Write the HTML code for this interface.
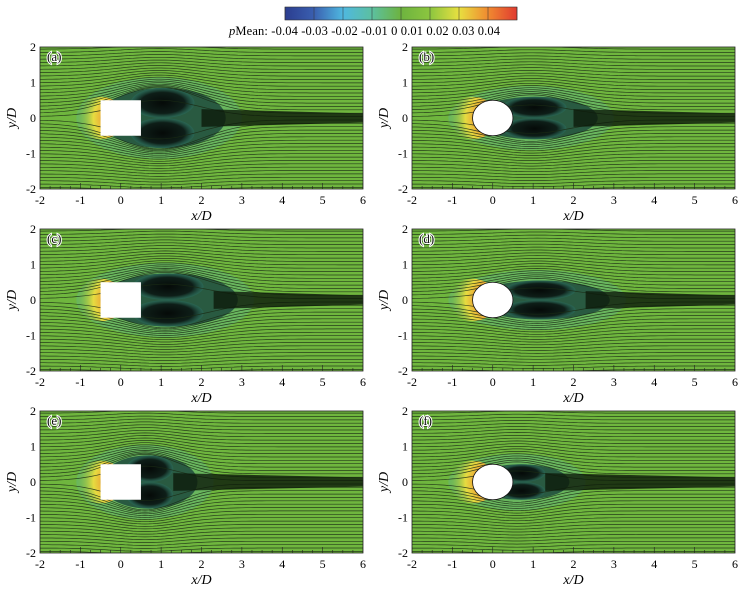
<!DOCTYPE html>
<html><head><meta charset="utf-8"><style>
body{margin:0;background:#fff;}
svg{display:block;font-family:"Liberation Serif",serif;}
</style></head><body>
<svg id="fig" width="748" height="596" viewBox="0 0 748 596">
<defs>
<linearGradient id="cb" x1="0" x2="1" y1="0" y2="0">
<stop offset="0" stop-color="#2b3d8f"/><stop offset="0.125" stop-color="#3a5fb0"/><stop offset="0.25" stop-color="#4fb8e0"/><stop offset="0.375" stop-color="#5cc0a0"/><stop offset="0.5" stop-color="#6db33f"/><stop offset="0.625" stop-color="#8cc63f"/><stop offset="0.75" stop-color="#e8e040"/><stop offset="0.875" stop-color="#f08a30"/><stop offset="1" stop-color="#e03a30"/>
</linearGradient>
<radialGradient id="stag" cx="1" cy="0.5" r="1">
<stop offset="0" stop-color="#e8402e"/><stop offset="0.35" stop-color="#f08a30"/><stop offset="0.65" stop-color="#e6dc40"/><stop offset="1" stop-color="#72b840" stop-opacity="0"/>
</radialGradient>
<radialGradient id="wake" cx="0.5" cy="0.5" r="0.5">
<stop offset="0" stop-color="#050a08"/><stop offset="0.7" stop-color="#0e1e18"/><stop offset="1" stop-color="#2a6a5a" stop-opacity="0.7"/>
</radialGradient>
</defs>
<g id="colorbar"></g>
<g id="panels"></g>
</svg>
<script>
const cbTicks=[-0.04,-0.03,-0.02,-0.01,0,0.01,0.02,0.03,0.04];
const xTicks=[-2,-1,0,1,2,3,4,5,6];
const yTicks=[-2,-1,0,1,2];
const panelLabels=["(a)","(b)","(c)","(d)","(e)","(f)"];
const panelShapes=["square","circle","square","circle","square","circle"];
const wakeLength=[2.3,2.3,2.6,2.6,1.6,1.6];
const wakeHeight=[0.85,0.6,0.75,0.55,0.75,0.5];
const panelLefts=[40,412,40,412,40,412];
const panelTops=[47,47,229,229,411,411];
const NS="http://www.w3.org/2000/svg";
function mk(tag,attrs,parent){const e=document.createElementNS(NS,tag);for(const k in attrs)e.setAttribute(k,attrs[k]);parent.appendChild(e);return e;}
const cbg=document.getElementById('colorbar');
const cbX0=285,cbX1=517;
function cbx(v){return cbX0+(v-cbTicks[0])/(cbTicks[cbTicks.length-1]-cbTicks[0])*(cbX1-cbX0);}
let r=mk('rect',{x:cbX0,y:7,width:cbX1-cbX0,height:13,fill:'url(#cb)',stroke:'#333','stroke-width':0.6},cbg);


cbTicks.forEach(v=>{const l=mk('line',{x1:cbx(v),x2:cbx(v),y1:7,y2:20,stroke:'#333','stroke-width':0.5},cbg);

});
let t=mk('text',{x:229,y:35,'font-size':12.5,textLength:271,lengthAdjust:'spacing'},cbg);t.innerHTML='<tspan font-style="italic">p</tspan>Mean: '+cbTicks.map(v=>String(v)).join(' ');



const W=323,H=142;
const pg=document.getElementById('panels');
panelLabels.forEach((lab,i)=>{
 const L=panelLefts[i],T=panelTops[i];
 const g=mk('g',{},pg);
 
 
 const sx=x=>L+(x+2)/8*W, sy=y=>T+(2-y)/4*H;
 const ux=W/8, uy=H/4;
 const cp='clip'+i;
 const c=mk('clipPath',{id:cp},g);mk('rect',{x:L,y:T,width:W,height:H},c);
 const body=mk('g',{'clip-path':'url(#'+cp+')'},g);
 mk('rect',{x:L,y:T,width:W,height:H,fill:'#6fb63e'},body);
 const Lw=wakeLength[i],Hw=wakeHeight[i];
 mk('ellipse',{cx:sx(Lw/2-0.2),cy:sy(0),rx:(Lw/2+0.9)*ux,ry:(Hw+0.3)*uy,fill:'#5fb79a',opacity:0.35},body);
 mk('ellipse',{cx:sx(-0.5),cy:sy(0),rx:0.6*ux,ry:0.6*uy,fill:'url(#stag)'},body);
 mk('ellipse',{cx:sx(Lw/2-0.1),cy:sy(0),rx:(Lw/2+0.4)*ux,ry:Hw*uy,fill:'#1f4a3c',opacity:0.85},body);
 mk('ellipse',{cx:sx(Lw*0.45),cy:sy(Hw*0.5),rx:(Lw*0.3+0.1)*ux,ry:Hw*0.5*uy,fill:'url(#wake)'},body);
 mk('ellipse',{cx:sx(Lw*0.45),cy:sy(-Hw*0.5),rx:(Lw*0.3+0.1)*ux,ry:Hw*0.5*uy,fill:'url(#wake)'},body);
 for(let k=0;k<44;k++){
  const y0=-2.05+k*0.095;
  let d='';
  for(let xs=-2;xs<=6.01;xs+=0.1){
   const s=Math.sign(y0)||1;
   const env=Hw*Math.exp(-Math.pow((xs-Lw/2+0.2)/(Lw/2+0.9),2)*2);
   const push=env*Math.exp(-Math.abs(y0)/0.9);
   let y=y0+s*push*Math.min(1,Math.abs(y0)/0.15+0.3);
   d+=(d?'L':'M')+sx(xs).toFixed(1)+','+sy(y).toFixed(1);
  }
  const p=mk('path',{d:d,fill:'none',stroke:'#1a2a14','stroke-width':0.7,opacity:0.85},body);
  
  
 }
 mk('path',{d:`M${sx(Lw-0.3)},${sy(0.25)} L${sx(6)},${sy(0.13)} L${sx(6)},${sy(-0.13)} L${sx(Lw-0.3)},${sy(-0.25)}Z`,fill:'#0c1a0a',opacity:0.8},body);
 const b=panelShapes[i]==='square'?mk('rect',{x:sx(-0.5),y:sy(0.5),width:ux,height:uy,fill:'#fff'},body):mk('ellipse',{cx:sx(0),cy:sy(0),rx:0.5*ux,ry:0.5*uy,fill:'#fff',stroke:'#111','stroke-width':0.8},body);
 
 
 for(let xs=-2;xs<=6;xs+=0.25){mk('line',{x1:sx(xs),x2:sx(xs),y1:T+H,y2:T+H-(xs%1===0?6:3),stroke:'#222','stroke-width':0.6},body);}
 mk('rect',{x:L,y:T,width:W,height:H,fill:'none',stroke:'#222','stroke-width':0.8},g);
 const pl=mk('text',{x:L+7,y:T+14,'font-size':13,fill:'#111',stroke:'#fff','stroke-width':2,'paint-order':'stroke'},g);pl.textContent=lab;
 
 
 xTicks.forEach(v=>{const tx=mk('text',{x:sx(v),y:T+H+15,'font-size':12,'text-anchor':'middle'},g);tx.textContent=v;
 
 });
 yTicks.forEach(v=>{const ty=mk('text',{x:L-4,y:sy(v)+4,'font-size':12,'text-anchor':'end'},g);ty.textContent=v;
 
 });
 const xt=mk('text',{x:sx(2),y:T+H+31,'font-size':14,'text-anchor':'middle','font-style':'italic'},g);xt.textContent='x/D';
 
 
 const yt=mk('text',{x:0,y:0,'font-size':14,'text-anchor':'middle','font-style':'italic',transform:'translate('+(L-24)+','+sy(0)+') rotate(-90)'},g);yt.textContent='y/D';
 
 
});
</script>
</body></html>
